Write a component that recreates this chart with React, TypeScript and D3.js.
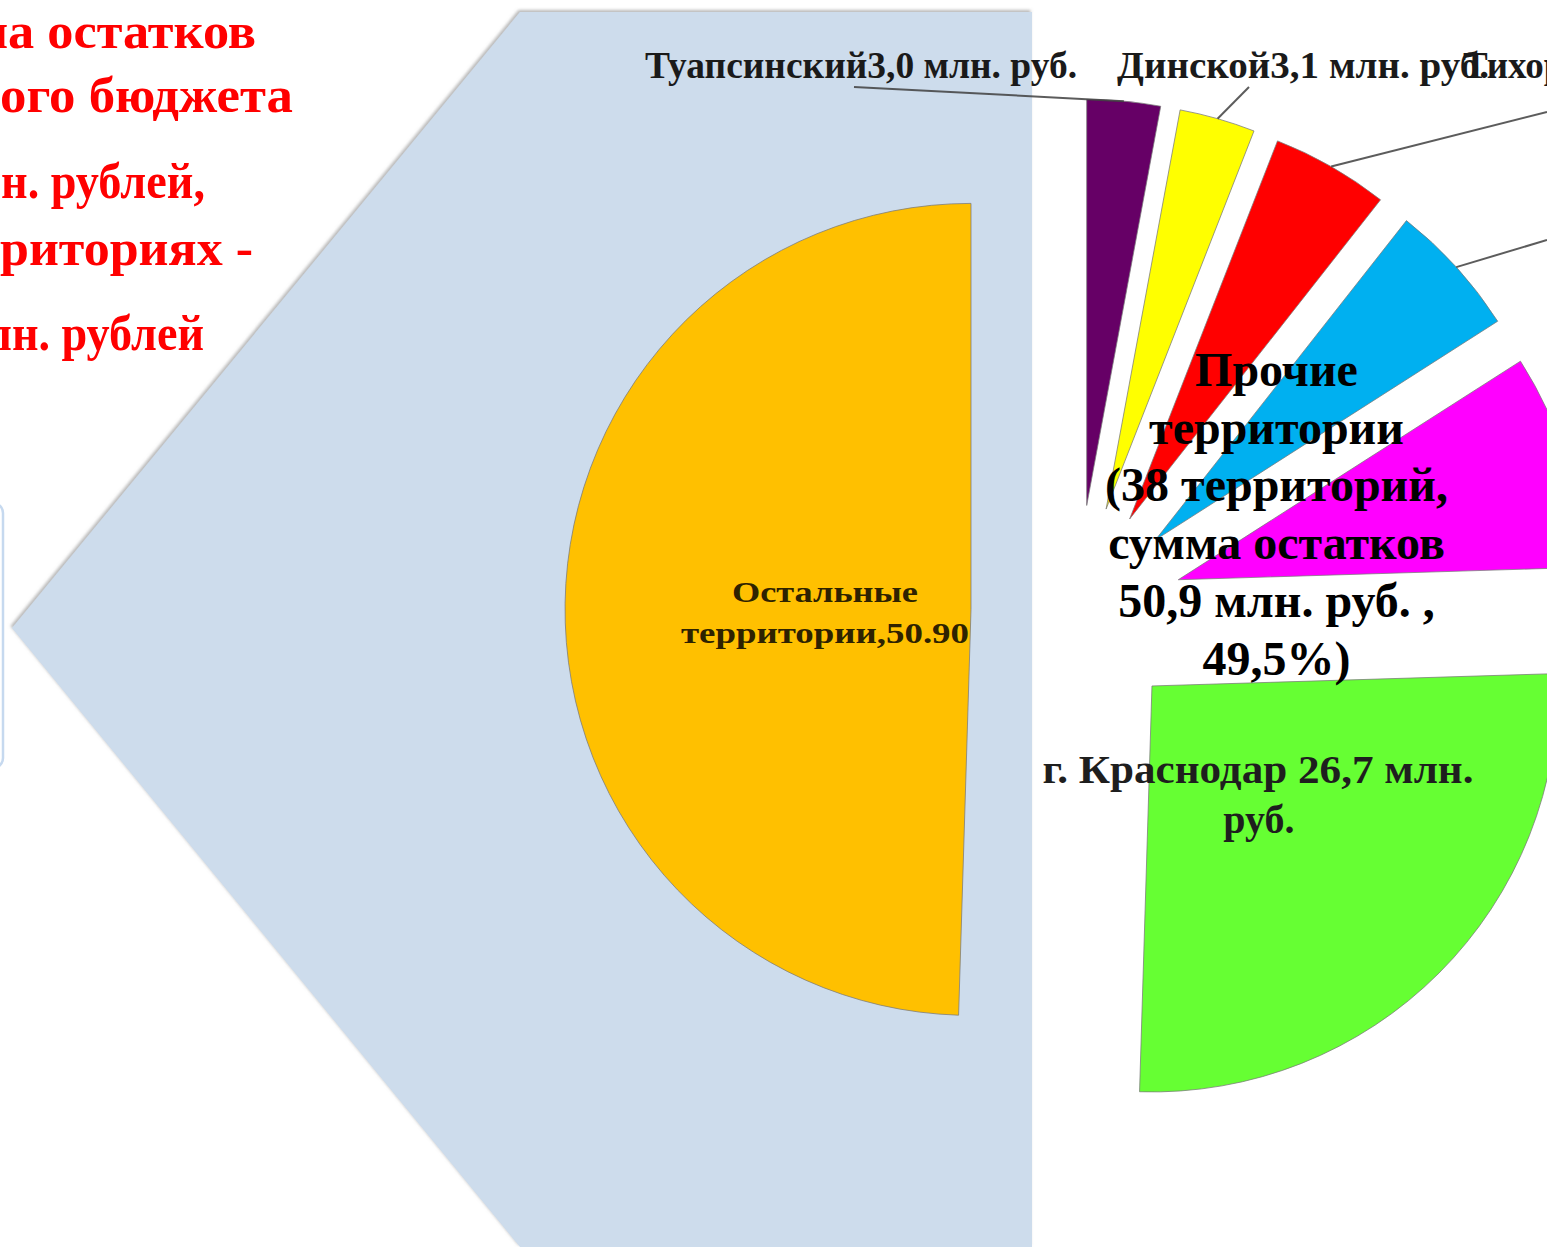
import React from "react";
import * as d3 from "d3";

// ---- data ----
const categories = ["Туапсинский", "Динской", "Тихорецкий", "—", "—", "г. Краснодар", "Остальные территории"];
const values = [3.0, 3.1, 4.8, 5.5, 8.8, 26.7, 50.9];
const valueTexts = ["3,0 млн. руб.", "3,1 млн. руб.", "4,8 млн. руб.", "", "", "26,7 млн. руб.", "50.90"];
const colors = ["#660066", "#FFFF00", "#FF0000", "#00B0F0", "#FF00FF", "#66FF33", "#FFC000"];
const headerLines = ["на остатков", "ого бюджета", "н. рублей,", "риториях -", "лн. рублей"];
const otherLines = ["Прочие", "территории", "(38 территорий,", "сумма остатков", "50,9 млн. руб. ,", "49,5%)"];

// ---- layout ----
const W = 1547;
const H = 1247;
const CX = 1077;
const CY = 611;
const R = 406;
const EXPLODE = 106;
const SERIF = "'Liberation Serif', 'Times New Roman', serif";

const headerLayout = [
  { x: 256, y: 48, len: 278 },
  { x: 293, y: 112, len: 293 },
  { x: 205, y: 198, len: 204 },
  { x: 253, y: 265, len: 253 },
  { x: 204, y: 350, len: 218 },
];

// outside label placement for the small slices (index -> text anchor + leader end)
const outsideLabels: Record<number, { x: number; y: number; len?: number; lx: number; ly: number }> = {
  0: { x: 645, y: 78, len: 432, lx: 854, ly: 87 },
  1: { x: 1117, y: 78, len: 372, lx: 1249, ly: 87 },
  2: { x: 1463, y: 78, lx: 1547, ly: 112 },
  3: { x: 9999, y: 0, lx: 1547, ly: 240 },
};

export default function App() {
  const pie = d3
    .pie<number>()
    .sort(null)
    .value((d) => d)
    .startAngle(0)
    .endAngle(2 * Math.PI);
  const arcs = pie(values);
  const arcGen = d3.arc<d3.PieArcDatum<number>>().innerRadius(0).outerRadius(R);

  const offset = (a: d3.PieArcDatum<number>) => {
    const mid = (a.startAngle + a.endAngle) / 2;
    return { x: CX + EXPLODE * Math.sin(mid), y: CY - EXPLODE * Math.cos(mid), mid };
  };

  const bgPoints: [number, number][] = [
    [520, 12],
    [1032, 12],
    [1032, H],
    [520, H],
    [12, 628],
  ];

  const orange = arcs[6];
  const oo = offset(orange);
  const green = arcs[5];
  const go = offset(green);

  return (
    <svg
      width={W}
      height={H}
      viewBox={`0 0 ${W} ${H}`}
      style={{ position: "absolute", left: 0, top: 0, display: "block", background: "#ffffff" }}
    >
      <defs>
        <filter id="shadow" x="-10%" y="-10%" width="120%" height="120%">
          <feDropShadow dx="-1.5" dy="-2" stdDeviation="1.5" floodColor="#808080" floodOpacity="0.55" />
        </filter>
      </defs>

      {/* left small rounded box remnant */}
      <rect x={-30} y={503} width={33} height={265} rx={10} fill="#ffffff" stroke="#c6d9ef" strokeWidth={2.5} />

      {/* light blue background arrow shape */}
      <polygon points={bgPoints.map((p) => p.join(",")).join(" ")} fill="#CDDCEC" filter="url(#shadow)" />

      {/* header text (red) */}
      {headerLines.map((t, i) => (
        <text
          key={i}
          x={headerLayout[i].x}
          y={headerLayout[i].y}
          textAnchor="end"
          fontFamily={SERIF}
          fontWeight="bold"
          fontSize={51}
          fill="#FF0000"
          textLength={headerLayout[i].len}
          lengthAdjust="spacingAndGlyphs"
        >
          {t}
        </text>
      ))}

      {/* pie slices */}
      <g>
        {arcs.map((a, i) => {
          const o = offset(a);
          return (
            <path
              key={i}
              d={arcGen(a) || ""}
              transform={`translate(${o.x},${o.y})`}
              fill={colors[i]}
              stroke="#7a7a7a"
              strokeOpacity={0.75}
              strokeWidth={1}
              strokeLinejoin="round"
            />
          );
        })}
      </g>

      {/* leader lines */}
      {Object.keys(outsideLabels).map((k) => {
        const i = +k;
        const a = arcs[i];
        const o = offset(a);
        const px = o.x + R * Math.sin(o.mid);
        const py = o.y - R * Math.cos(o.mid);
        const L = outsideLabels[i];
        return (
          <line key={"l" + i} x1={px} y1={py} x2={L.lx} y2={L.ly} stroke="#404040" strokeWidth={2} strokeOpacity={0.85} />
        );
      })}

      {/* outside labels */}
      {[2, 1, 0].map((i) => {
        const L = outsideLabels[i];
        return (
          <text
            key={"t" + i}
            x={L.x}
            y={L.y}
            fontFamily={SERIF}
            fontWeight="bold"
            fontSize={37}
            fill="#1a1a1a"
            textLength={L.len}
            lengthAdjust={L.len ? "spacingAndGlyphs" : undefined}
          >
            {categories[i] + valueTexts[i]}
          </text>
        );
      })}

      {/* orange slice label */}
      <g fontFamily={SERIF} fontWeight="bold" fill="#2e2200" textAnchor="middle">
        <text x={oo.x - 146} y={602} fontSize={30} textLength={186} lengthAdjust="spacingAndGlyphs">
          {categories[6].split(" ")[0]}
        </text>
        <text x={oo.x - 146} y={643} fontSize={30} textLength={288} lengthAdjust="spacingAndGlyphs">
          {categories[6].split(" ")[1] + "," + valueTexts[6]}
        </text>
      </g>

      {/* green slice label */}
      <g fontFamily={SERIF} fontWeight="bold" fill="#1e1e1e" textAnchor="middle">
        <text x={go.x + 106} y={783} fontSize={40} textLength={431} lengthAdjust="spacingAndGlyphs">
          {categories[5] + " " + valueTexts[5].replace(" руб.", "")}
        </text>
        <text x={go.x + 107} y={833} fontSize={40}>
          руб.
        </text>
      </g>

      {/* "Прочие территории" block */}
      <g fontFamily={SERIF} fontWeight="bold" fill="#000000" textAnchor="middle" fontSize={48}>
        {otherLines.map((t, i) => (
          <text key={i} x={1276.5} y={386 + i * 57.7}>
            {t}
          </text>
        ))}
      </g>
    </svg>
  );
}
